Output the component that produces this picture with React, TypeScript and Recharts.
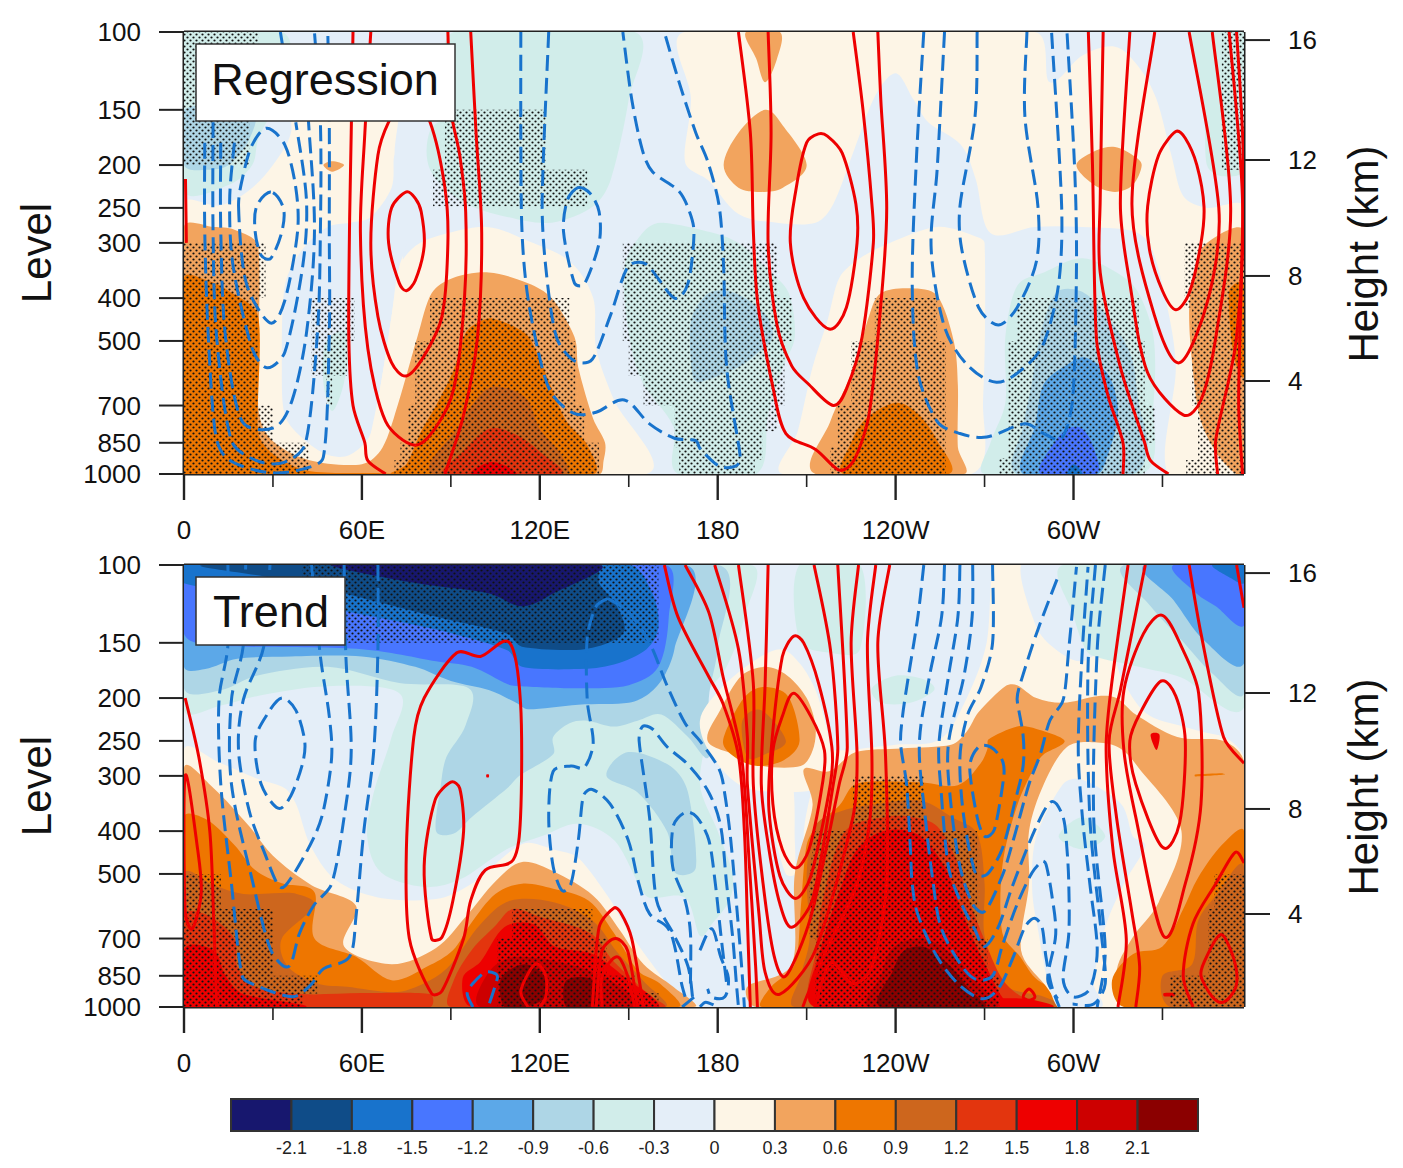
import React from "react"
import { ComposedChart, BarChart, Bar, Scatter, XAxis, YAxis } from "recharts"

type P = [number, number]

const CB = ["#17176e", "#0f4c88", "#1873cc", "#4876ff", "#5ca8e8", "#aed6e6", "#d1edea", "#e4eef8", "#fdf5e6", "#f2a45e", "#ee7600", "#cd661d", "#e3350e", "#ee0000", "#cd0000", "#8b0000"]
const cbLabels = ["-2.1", "-1.8", "-1.5", "-1.2", "-0.9", "-0.6", "-0.3", "0", "0.3", "0.6", "0.9", "1.2", "1.5", "1.8", "2.1"]
const levelTicks = [100, 150, 200, 250, 300, 400, 500, 700, 850, 1000]
const heightLabels = ["16", "12", "8", "4"]
const heightAtLevel = [104.3, 194.8, 356.4, 616]
const lonTicks = [0, 30, 60, 90, 120, 150, 180, 210, 240, 270, 300, 330]
const lonLabels = ["0", "", "60E", "", "120E", "", "180", "", "120W", "", "60W", ""]

const frame: P[] = [[0, 100], [357.5, 100], [357.5, 1000], [0, 1000]]

// ---- Regression shading
const rTealUp: P[] = [[91, 100], [152, 100], [150, 142], [144, 215], [138, 248], [124, 270], [109, 262], [94, 242], [83, 205], [83, 167], [91, 150]]
const rTealLeft: P[] = [[0, 100], [33, 100], [36, 120], [30, 150], [25, 175], [23, 200], [15, 222], [0, 228]]
const rBlueLeft: P[] = [[0, 150], [23, 150], [22, 175], [15, 200], [8, 205], [0, 200]]
const rCreamA: P[] = [[0, 245], [12, 247], [22, 228], [30, 200], [36, 170], [38, 130], [70, 130], [71, 190], [71, 1000], [0, 1000]]
const rPaleB: P[] = [[71, 190], [70, 225], [63, 262], [56, 270], [48.5, 276], [40, 310], [34, 375], [33, 573], [34, 735], [40, 830], [48.5, 905], [56, 905], [63, 810], [66.5, 620], [70, 440], [72.6, 340], [75, 300], [75, 190]]
const rTealSmall: P[] = [[48, 500], [56, 480], [54, 620], [50, 720], [47, 620]]
const rCreamC: P[] = [[169, 100], [171, 142], [169, 197], [177, 217], [187, 258], [200, 270], [213, 270], [219, 245], [226, 185], [233, 140], [240, 124], [246, 142], [251, 160], [262, 180], [267, 215], [272, 285], [287, 276], [303, 276], [320, 282], [326, 305], [331, 400], [334.5, 573], [332, 1000], [357.5, 1000], [357.5, 250], [345, 250], [337, 235], [333, 190], [328, 142], [322, 120], [314, 108], [303, 113], [292, 130], [287, 100]]
const rCreamDome: P[] = [[202, 1000], [207, 800], [212, 573], [217, 450], [221, 360], [228, 325], [238, 300], [254, 276], [267, 290], [270, 300], [269.5, 680], [265.5, 1000]]
const rTealMid: P[] = [[154.6, 285], [160.6, 270], [177, 283], [187, 300], [197, 345], [204, 390], [206, 490], [202, 573], [197, 735], [193, 1000], [166.6, 1000], [165, 780], [154.6, 620], [150, 480], [148.5, 340]]
const rBlueMid: P[] = [[171, 450], [177, 390], [186, 390], [196, 435], [198.5, 490], [193, 535], [187, 573], [174, 620], [171.5, 600]]
const rTealRight: P[] = [[270, 1000], [272, 850], [277, 690], [277, 490], [281, 375], [290, 350], [303, 325], [316, 355], [322, 390], [327, 490], [327, 690], [323, 1000]]
const rLightRight: P[] = [[281, 1000], [283, 780], [286, 620], [288.6, 490], [294, 390], [302, 385], [309, 420], [319, 530], [322, 690], [325, 870], [320, 1000]]
const rSkyRight: P[] = [[283, 1000], [287, 780], [290, 625], [298, 565], [304, 545], [312, 600], [315, 735], [311, 930], [308, 1000]]
const rRoyalRight: P[] = [[289, 1000], [293, 860], [298, 790], [303, 790], [307, 880], [307.5, 1000]]
const rBlueRight: P[] = [[298, 1000], [300, 950], [303, 1000]]
const rTealCorner: P[] = [[340, 100], [357.5, 100], [357.5, 205], [350, 212], [345, 200], [344, 150]]
const rSandRight: P[] = [[357.5, 283], [345, 300], [341, 345], [339, 420], [340, 560], [343, 760], [350, 930], [357.5, 1000]]
const rOrangeRight: P[] = [[352.5, 385], [357.5, 370], [357.5, 600], [354, 540]]
const rRing: P[] = [[63, 810], [66.5, 620], [70, 440], [72.6, 340], [78, 305], [85, 290], [102, 276], [115, 295], [130, 330], [138, 400], [139, 520], [145, 680], [156, 1000], [60, 1000]]
const rSandDome: P[] = [[0, 276], [10, 276], [17, 280], [25, 305], [25, 700], [29, 830], [42, 930], [60, 950], [67, 870], [72.6, 680], [78.7, 490], [83.5, 390], [90.7, 360], [102.8, 350], [116, 370], [124, 400], [131.7, 490], [133, 575], [138, 750], [142, 850], [141.5, 933], [140, 1000], [0, 1000]]
const rOrangeLeft: P[] = [[0, 360], [8, 365], [15, 385], [25, 440], [25, 800], [30, 900], [42, 985], [65, 995], [70, 1000], [0, 1000]]
const rOrangeDome: P[] = [[70, 1000], [75, 950], [80, 800], [85, 700], [91, 580], [95, 480], [99, 455], [104, 445], [115, 480], [120, 550], [124, 640], [129, 760], [136, 860], [138, 1000]]
const rChocDome: P[] = [[84, 1000], [92, 790], [97, 700], [104, 635], [115, 670], [120, 790], [127, 900], [129, 1000]]
const rRedOrDome: P[] = [[88, 1000], [94, 890], [103, 790], [112, 815], [120, 890], [127, 1000]]
const rRedDome: P[] = [[97, 1000], [104, 940], [112, 1000]]
const rSandDome2: P[] = [[213, 1000], [218, 760], [226, 573], [231, 440], [235, 390], [245, 380], [254, 395], [259.6, 500], [261, 630], [261, 870], [263, 1000]]
const rOrangeDome2: P[] = [[222.5, 1000], [225, 850], [230, 750], [240, 690], [247.5, 730], [254, 840], [258, 1000]]
const rBlobTop: P[] = [[189.5, 100], [201, 100], [200, 115], [196, 130], [193, 115]]
const rBlobMid: P[] = [[182, 200], [187, 169], [196, 150], [202, 163], [210, 200], [202, 225], [195, 230], [187, 225]]
const rBlobRight: P[] = [[301, 200], [308, 185], [314, 182], [320, 190], [323, 200], [320, 222], [314, 230], [307, 222]]
const rBlobSmall: P[] = [[47, 200], [50, 196], [54, 200], [50, 207]]

const regFills: [P[], number][] = [
  [frame, 7], [rTealUp, 6], [rTealLeft, 6], [rBlueLeft, 5], [rCreamA, 8], [rPaleB, 7], [rTealSmall, 6], [rCreamC, 8], [rTealMid, 6], [rBlueMid, 5],
  [rCreamDome, 8], [rTealRight, 6], [rLightRight, 5], [rSkyRight, 4], [rRoyalRight, 3], [rBlueRight, 2], [rTealCorner, 6], [rSandRight, 9], [rOrangeRight, 10],
  [rRing, 8], [rSandDome, 9], [rOrangeLeft, 10], [rOrangeDome, 10], [rChocDome, 11], [rRedOrDome, 12], [rRedDome, 13],
  [rSandDome2, 9], [rOrangeDome2, 10], [rBlobTop, 9], [rBlobMid, 9], [rBlobRight, 9], [rBlobSmall, 9],
]

// ---- Regression stippling
const rDotsA: P[] = [[0, 100], [25, 100], [25, 150], [22, 150], [22, 200], [0, 200]]
const rDotsB: P[] = [[0, 300], [27.5, 300], [27.5, 400], [25, 400], [25, 700], [30, 700], [30, 850], [42, 850], [42, 1000], [0, 1000]]
const rDotsC: P[] = [[43, 400], [57.5, 400], [57.5, 500], [55, 500], [55, 600], [50, 600], [50, 700], [48, 700], [48, 600], [43, 600]]
const rDotsD: P[] = [[88, 150], [122, 150], [122, 205], [136, 205], [136, 248], [84, 248], [84, 205], [88, 205]]
const rDotsE: P[] = [[83, 400], [130, 400], [130, 500], [132, 500], [132, 700], [135, 700], [135, 850], [140, 850], [140, 1000], [71, 1000], [71, 930], [73, 930], [73, 850], [75.6, 850], [75.6, 700], [78, 700], [78, 500], [83, 500]]
const rDotsF: P[] = [[148, 300], [200, 300], [200, 400], [205, 400], [205, 500], [202.5, 500], [202.5, 700], [200, 700], [200, 800], [195, 800], [195, 930], [192.5, 930], [192.5, 1000], [167, 1000], [167, 870], [165.5, 870], [165.5, 700], [155, 700], [155, 600], [150, 600], [150, 500], [148, 500]]
const rDotsG: P[] = [[233, 400], [254, 400], [254, 500], [257, 500], [257, 1000], [218, 1000], [218, 870], [220.5, 870], [220.5, 700], [225, 700], [225, 500], [227.5, 500], [233, 500]]
const rDotsH: P[] = [[281, 400], [322, 400], [322, 500], [324, 500], [324, 700], [327.5, 700], [327.5, 850], [324, 850], [324, 1000], [275, 1000], [275, 920], [278, 920], [278, 500], [281, 500]]
const rDotsI: P[] = [[350, 100], [357.5, 100], [357.5, 205], [350, 205]]
const rDotsJ: P[] = [[337.5, 300], [357.5, 300], [357.5, 1000], [338, 1000], [338, 930], [342, 930], [342, 700], [340, 700], [340, 420], [337.5, 420]]
const regDots = [rDotsA, rDotsB, rDotsC, rDotsD, rDotsE, rDotsF, rDotsG, rDotsH, rDotsI, rDotsJ]

// ---- Regression contours
const rr1: P[] = [[57, 100], [56.4, 169], [55.8, 285], [55.6, 500], [57, 700], [61, 850], [62, 933], [68, 1000]]
const rr2: P[] = [[63, 100], [61, 169], [59.5, 285], [62, 520], [68, 760], [77.5, 860], [84.6, 790], [91, 640], [94.6, 400], [95, 255], [93, 190], [90, 150], [89, 100]]
const rr4: P[] = [[96.7, 100], [98.5, 169], [100.4, 285], [99, 490], [94.3, 735], [88, 1000]]
const rr6: P[] = [[0.5, 215], [0.8, 300]]
const rra: P[] = [[187, 100], [191, 169], [192, 280], [193.5, 410], [198.7, 640], [203, 810], [213, 880], [221, 980], [226, 930], [231, 735], [235, 415], [237, 250], [235, 142], [234, 100]]
const rrb: P[] = [[197, 100], [198, 169], [197, 300], [200, 460], [205, 570], [210.5, 625], [219, 700], [223.5, 640], [228.7, 490], [232.5, 300], [232, 245], [229, 150], [225.7, 100]]
const rrd: P[] = [[305, 100], [306.4, 200], [307.7, 490], [311.5, 660], [316.7, 850], [316.7, 1000]]
const rre: P[] = [[310, 100], [309, 240], [309, 350], [315.8, 573], [324, 850], [326, 933], [332, 1000]]
const rrf: P[] = [[319, 100], [315.8, 245], [319, 370], [325, 590], [337, 735], [343, 680], [348, 490], [353, 250], [346.8, 100]]
const rrg: P[] = [[327.4, 100], [319.7, 245], [327.4, 440], [335.8, 560], [345.5, 400], [349, 250], [339, 100]]
const rri: P[] = [[352.5, 100], [357, 240], [355, 490], [348, 835], [348.6, 1000]]
const rrj: P[] = [[355, 100], [357.3, 200], [355.7, 680], [357, 1000]]
const regRedOpen = [rr1, rr2, rr4, rr6, rra, rrb, rrd, rre, rrf, rrg, rri, rrj]

const rr3: P[] = [[69, 160], [65.4, 190], [63, 300], [65.4, 440], [70, 560], [75, 600], [81, 540], [87, 440], [89, 300], [88, 225], [83, 160], [76, 135]]
const rr5: P[] = [[75, 230], [70, 250], [69, 300], [72.6, 370], [75, 385], [78, 365], [81, 305], [80, 255], [78, 238]]
const rrc: P[] = [[214, 170], [210, 178], [206.5, 225], [204.5, 300], [209, 400], [217.6, 470], [223.4, 420], [227, 300], [226.6, 245], [222, 188], [217, 172]]
const rrh: P[] = [[334.5, 168], [328.7, 190], [325, 248], [325.6, 310], [330, 385], [334.5, 425], [339, 390], [343, 300], [344, 248], [341.6, 200], [337.7, 174]]
const regRedClosed = [rr3, rr5, rrc, rrh]

const rbA: P[] = [[7, 178], [7, 283], [8.2, 490], [10.6, 810], [14.8, 925], [28, 992], [40, 975], [47, 915], [49, 480], [49, 283], [49, 160], [48.5, 100]]
const rbB: P[] = [[9.8, 160], [9.8, 283], [11, 490], [16, 840], [24.5, 933], [34, 940], [41, 850], [45, 480], [46, 283], [46, 160], [44, 100]]
const rbC: P[] = [[12.4, 178], [12.4, 283], [14, 490], [19.6, 760], [30.5, 785], [36.5, 680], [41.3, 480], [44, 283], [42, 160], [40, 104]]
const rbD: P[] = [[17, 178], [15.4, 240], [16.6, 340], [23, 520], [28, 575], [34, 530], [40, 340], [41.3, 240], [37.7, 160]]
const rbG: P[] = [[32.5, 100], [34, 115]]
const rbH: P[] = [[113.6, 100], [113.6, 169], [114, 283], [116, 400], [120.8, 575], [124.5, 665], [131.7, 730], [139, 725], [148.5, 680], [157, 770], [165.4, 830], [172.6, 840], [174, 875], [180.5, 960], [186, 960], [187.6, 915], [183, 573], [182, 340], [180.5, 248], [176.6, 196], [172.6, 169], [167, 130], [162, 100]]
const rbJ: P[] = [[123, 100], [120.8, 240], [122, 340], [125.6, 490], [131.7, 555], [137.7, 550], [143.7, 440], [149.7, 340], [155.8, 335], [165.4, 400], [170, 370], [172, 283], [170, 250], [166.6, 228], [158, 207], [154.6, 185], [151, 142], [148, 100]]
const rbL: P[] = [[249.5, 100], [247, 195], [245.6, 371], [247.5, 590], [254, 760], [261.7, 810], [270.7, 825], [283.6, 770], [290, 810], [296, 830], [299.7, 680], [301, 340], [300.4, 205], [297.8, 100]]
const rbM: P[] = [[256.5, 100], [254, 205], [252, 310], [256.5, 465], [264, 565], [274, 620], [283.6, 573], [290, 505], [295, 371], [296, 248], [292.6, 100]]
const rbN: P[] = [[267.5, 100], [266.8, 155], [261.7, 248], [262.3, 310], [268, 420], [274.6, 460], [281, 420], [287.5, 330], [288, 248], [283.6, 155], [284.3, 100]]
const regBlueOpen = [rbA, rbB, rbC, rbD, rbG, rbH, rbJ, rbL, rbM, rbN]

const rbE: P[] = [[18.4, 248], [21, 370], [29, 455], [34, 405], [38.3, 283], [37.7, 225], [34, 180], [28, 165], [23, 180], [20, 210]]
const rbF: P[] = [[29.3, 230], [24.5, 248], [24, 283], [26, 320], [29.3, 325], [33, 283], [33.5, 250]]
const rbK: P[] = [[132.9, 225], [129.3, 240], [128, 283], [131.7, 370], [135, 372], [140, 300], [140, 255], [137, 232]]
const regBlueClosed = [rbE, rbF, rbK]

// ---- Trend shading
const tTeal: P[] = [[0, 100], [191, 100], [189, 131], [183, 170], [174, 205], [177, 228], [174, 313], [180, 400], [185, 500], [184, 573], [178, 650], [174, 690], [169, 566], [157, 566], [153.3, 526], [145, 419], [133, 385], [121, 410], [108.7, 440], [93, 515], [81, 535], [66.6, 497], [61.8, 412], [64, 327], [70, 245], [72.6, 195], [48.5, 188], [24.5, 198], [12.4, 208], [0, 213]]
const tTealB: P[] = [[207.6, 100], [228, 100], [228, 155], [218, 158], [207.6, 148]]
const tTealC: P[] = [[232, 190], [240, 178], [250, 182], [253, 192], [245, 205], [235, 205]]
const tLight: P[] = [[0, 190], [12.4, 192], [24.5, 178], [48.5, 170], [72.6, 185], [96, 190], [95, 230], [88.5, 272], [86.6, 315], [85, 400], [91, 405], [97, 372], [109, 320], [113, 300], [124.5, 268], [124.5, 245], [130, 228], [136, 225], [145, 232], [153, 225], [161, 218], [170, 245], [177, 272], [177, 200], [180, 154], [180, 100], [0, 100]]
const tLightLobe: P[] = [[149.8, 265], [164, 285], [170, 327], [172.6, 485], [165.4, 495], [163, 402], [153, 327], [142.5, 300]]
const tSky: P[] = [[0, 170], [7.2, 172], [18, 163], [36, 161], [60, 161], [78, 170], [90, 183], [103, 192], [112, 205], [116, 212], [133, 207], [150, 205], [157, 195], [162, 178], [165.4, 155], [169, 100], [0, 100]]
const tRoyal: P[] = [[0, 143], [10, 152], [60, 155], [85, 165], [97, 170], [109, 186], [113, 188], [133, 190], [150, 187], [160, 170], [163.5, 131], [162, 100], [0, 100]]
const tBlue: P[] = [[0, 100], [0, 110], [30, 118], [54, 127], [85, 140], [109, 156], [114, 170], [133, 172], [145, 168], [156, 155], [160, 138], [158, 116], [150, 100]]
const tDark: P[] = [[7, 100], [30, 107], [54, 116], [85, 131], [109, 143], [114, 153], [135, 155], [148, 143], [146, 124], [140, 110], [139, 100]]
const tNavy: P[] = [[50, 100], [55, 102.6], [78.7, 110], [103, 116], [114, 124], [124.5, 116], [140, 100]]
const tCream: P[] = [[0, 262], [12, 280], [25, 305], [34, 320], [38, 350], [42.6, 430], [51, 515], [65.4, 565], [85, 570], [97, 526], [110, 445], [116, 425], [124.5, 440], [133, 460], [144, 575], [149, 660], [163, 885], [169, 948], [173, 1000], [0, 1000]]
const tSand: P[] = [[0, 288], [10, 320], [22, 390], [30, 455], [43, 530], [58, 590], [54, 730], [70, 800], [85, 735], [95, 625], [105, 520], [114, 470], [125, 495], [138, 560], [147, 670], [155, 800], [165, 900], [172, 1000], [0, 1000]]
const tOrange: P[] = [[0, 372], [8, 378], [17, 430], [24, 490], [33, 525], [44, 550], [44, 700], [58, 770], [70, 870], [82, 810], [90.7, 744], [96.7, 648], [105, 555], [114, 526], [124.5, 540], [136.5, 575], [145, 680], [153.3, 830], [160.5, 885], [166.6, 1000], [0, 1000]]
const tChoc: P[] = [[0, 500], [10, 530], [20, 555], [30, 553], [38, 555], [44, 590], [33, 700], [35, 810], [45, 885], [55, 900], [72, 925], [83, 870], [90, 800], [100, 650], [110, 575], [125, 580], [138, 640], [146, 750], [155, 875], [162, 1000], [0, 1000]]
const tRedOrA: P[] = [[0, 620], [8, 620], [17, 700], [18, 810], [24, 900], [40, 935], [60, 930], [83, 935], [83, 1000], [0, 1000]]
const tRedOrB: P[] = [[90, 1000], [91, 870], [97, 744], [105, 655], [111, 600], [120, 625], [137, 680], [145, 790], [157, 940], [162, 1000]]
const tRedA: P[] = [[0, 740], [10, 745], [14, 850], [20, 935], [41, 1000], [0, 1000]]
const tRedB: P[] = [[94, 860], [100, 790], [108, 660], [118, 650], [125, 730], [138, 760], [150, 870], [158, 950], [160, 1000], [97, 1000]]
const tDarkRed: P[] = [[100, 1000], [103, 830], [112, 770], [130, 800], [145, 880], [152, 1000]]
const tMaroonA: P[] = [[108, 1000], [107, 860], [115, 800], [122, 860], [122, 950], [115, 1000]]
const tMaroonB: P[] = [[129, 1000], [129, 870], [138, 870], [138, 1000]]
const tCreamTop: P[] = [[273.3, 100], [282.4, 100], [287.5, 138], [294, 155], [303, 165], [312, 155], [317, 185], [326, 220], [350.6, 245], [357.5, 275], [357.5, 500], [215, 500], [215, 272], [225.6, 262], [240, 255], [255, 248], [264, 200], [270.7, 150]]
const tCreamRing: P[] = [[174, 225], [180.5, 192], [191, 167], [201, 155], [207.7, 167], [213, 192], [216.6, 232], [218, 272], [215, 320], [190, 320], [178, 270]]
const tSandBlob: P[] = [[176.6, 250], [181, 212], [188, 178], [196, 170], [203.5, 178], [210, 200], [213, 232], [212, 263], [208, 285], [195, 285], [187, 270]]
const tOrangeBlob: P[] = [[181.8, 250], [188.3, 202], [194.7, 189], [203.7, 198], [207.6, 250], [202.4, 276], [193.4, 285], [185.7, 272]]
const tChocBlob: P[] = [[188.3, 225], [194.7, 213], [203, 250], [196, 268], [190, 272]]
const tCreamCol: P[] = [[198, 310], [205, 310], [206, 420], [206, 500], [203, 500], [199, 400]]
const tSandMain: P[] = [[209, 290], [217.6, 293], [226.6, 265], [242, 260], [258.7, 255], [264, 238], [268, 215], [277, 188], [281, 187], [287.5, 200], [296.5, 205], [308, 198], [314.5, 200], [321, 218], [335, 245], [350.6, 250], [357.5, 280], [357.5, 1000], [193, 1000], [190, 900], [205, 800], [206, 500], [212, 350]]
const tOrangeMain: P[] = [[271.4, 248], [281, 232], [287.5, 235], [297, 250], [290, 268], [287.5, 281], [281, 350], [276, 480], [276, 680], [282, 770], [288, 870], [300, 950], [303, 1000], [195, 1000], [198, 900], [206, 800], [208, 600], [210, 430], [214, 385], [221, 350], [227, 312], [248, 310], [261, 315], [268.7, 281], [271, 260]]
const tChocMain: P[] = [[213, 388], [221.8, 360], [236, 345], [249, 342], [259, 372], [267.5, 405], [270, 526], [270, 690], [276, 885], [290, 948], [296.5, 1000], [206, 1000], [208, 850], [211, 700], [210, 500]]
const tRedOrMain: P[] = [[223, 400], [236, 372], [246, 372], [254, 390], [260.4, 462], [264, 553], [269.4, 690], [276, 865], [283.6, 958], [292.6, 1000], [213, 1000], [213, 750], [216, 550]]
const tRedMain: P[] = [[227, 440], [236, 400], [247.5, 407], [256.5, 481], [261.7, 590], [267, 722], [274.6, 920], [277, 1000], [213, 1000], [214.6, 744], [222, 526]]
const tRedFoot: P[] = [[272, 960], [285, 960], [293, 1000], [272, 1000]]
const tDarkRedMain: P[] = [[231, 1000], [235, 850], [239, 735], [249.5, 700], [260, 770], [267.5, 885], [274, 1000]]
const tMaroonMain: P[] = [[235, 1000], [239, 830], [243, 744], [250.6, 735], [258.6, 810], [265, 915], [270, 1000]]
const tCreamInner: P[] = [[297.8, 258], [308, 252], [315.8, 260], [322, 288], [336.4, 400], [328.7, 580], [319.7, 700], [314.5, 840], [319.7, 1000], [297.8, 1000], [290, 885], [282.3, 744], [285, 526], [285, 400], [290, 313]]
const tPaleInner: P[] = [[294.6, 1000], [287.5, 640], [286, 526], [287.5, 411], [296.5, 313], [303, 306], [316, 347], [320, 411], [324.2, 432], [317, 526], [310.7, 660], [306.8, 885], [309.4, 1000]]
const tTealInner: P[] = [[295, 411], [303, 372], [310.7, 411], [303, 440]]
const tOrangeLow: P[] = [[357.5, 400], [350, 430], [342, 510], [337, 600], [330, 730], [320, 760], [313, 870], [317, 1000], [357.5, 1000]]
const tChocLow: P[] = [[357.5, 481], [348, 560], [342, 640], [340, 800], [330, 850], [332.6, 1000], [357.5, 1000]]
const tMarkA: P[] = [[330.5, 930], [334, 930], [334, 945], [330.5, 945]]
const tMarkB: P[] = [[341, 298], [350, 296], [351, 298], [341, 301]]
const tMarkC: P[] = [[326, 242], [329, 242], [328, 262]]
const tMarkD: P[] = [[102, 298], [102.8, 298], [102.8, 302], [102, 302]]
const tPaleCorner: P[] = [[282.4, 100], [296.5, 100], [357.5, 190], [357.5, 240], [340, 235], [322, 205], [312, 150], [303, 165], [294, 155], [287.5, 138]]
const tTealCorner: P[] = [[296.5, 100], [300, 130], [303, 150], [306, 160], [322, 170], [336.5, 180], [357.5, 210], [357.5, 100]]
const tLightCorner: P[] = [[317, 100], [326, 124], [336.5, 148], [346.8, 176], [357.5, 195], [357.5, 100]]
const tSkyCorner: P[] = [[324, 100], [333.7, 120], [344, 148], [357.5, 167], [357.5, 100]]
const tRoyalCorner: P[] = [[333.7, 100], [341.5, 116], [348, 124], [357.5, 137], [357.5, 100]]
const tBlueCorner: P[] = [[346.8, 100], [353, 107], [357.5, 110], [357.5, 100]]

const trendFills: [P[], number][] = [
  [frame, 7], [tTeal, 6], [tTealB, 6], [tTealC, 6], [tLight, 5], [tLightLobe, 5], [tSky, 4], [tRoyal, 3], [tBlue, 2], [tDark, 1], [tNavy, 0],
  [tCream, 8], [tSand, 9], [tOrange, 10], [tChoc, 11], [tRedOrA, 12], [tRedOrB, 12], [tRedA, 13], [tRedB, 13], [tDarkRed, 14], [tMaroonA, 15], [tMaroonB, 15],
  [tCreamTop, 8], [tPaleCorner, 7], [tTealCorner, 6], [tLightCorner, 5], [tSkyCorner, 4], [tRoyalCorner, 3], [tBlueCorner, 2],
  [tCreamRing, 8], [tCreamCol, 8], [tSandMain, 9], [tSandBlob, 9], [tOrangeBlob, 10], [tChocBlob, 11], [tOrangeMain, 10], [tChocMain, 11], [tRedOrMain, 12], [tRedMain, 13], [tRedFoot, 13], [tDarkRedMain, 14], [tMaroonMain, 15],
  [tCreamInner, 8], [tPaleInner, 7], [tTealInner, 6], [tOrangeLow, 10], [tChocLow, 11], [tMarkA, 13], [tMarkB, 10], [tMarkC, 13], [tMarkD, 13],
]

// ---- Trend stippling
const tDotsA: P[] = [[40, 100], [160, 100], [160, 150], [54, 150], [54, 107], [40, 107]]
const tDotsB: P[] = [[0, 500], [12.4, 500], [12.4, 600], [30, 600], [30, 850], [45, 850], [45, 932], [40, 932], [40, 1000], [0, 1000]]
const tDotsC: P[] = [[110.6, 600], [137.7, 600], [137.7, 700], [142.5, 700], [142.5, 850], [152, 850], [152, 930], [160, 930], [160, 1000], [105.8, 1000], [105.8, 700], [110.6, 700]]
const tDotsD: P[] = [[225.6, 300], [249.5, 300], [249.5, 400], [267.5, 400], [267.5, 700], [271, 700], [271, 850], [275, 850], [275, 1000], [213, 1000], [213, 700], [211, 700], [211, 500], [212.7, 400], [225.6, 400]]
const tDotsE: P[] = [[347.5, 500], [357.5, 500], [357.5, 1000], [332.6, 1000], [332.6, 850], [345.5, 850], [345.5, 600], [347.5, 600]]
const trendDots = [tDotsA, tDotsB, tDotsC, tDotsD, tDotsE]

// ---- Trend contours
const tr1: P[] = [[0.4, 200], [5, 272], [8.7, 400], [10, 630], [11, 1000]]
const tr5a: P[] = [[137.7, 1000], [140, 660], [145, 597], [147.3, 612], [151, 700], [155, 1000]]
const tr5b: P[] = [[139, 1000], [141, 745], [145.6, 700], [149.6, 745], [153, 1000]]
const tr5c: P[] = [[141, 1000], [141, 850], [146, 770], [149.6, 850], [152, 1000]]
const tr6: P[] = [[116, 1000], [113.6, 920], [118.4, 800], [122, 850], [122, 950], [120, 1000]]
const trL3: P[] = [[197, 100], [196, 185], [194.7, 313], [197.3, 440], [201, 585], [205, 660], [212, 570], [219, 313], [220.5, 258], [218, 155], [212.5, 100]]
const trL4: P[] = [[187, 100], [192, 185], [192, 313], [195.3, 526], [199, 765], [203, 850], [211.4, 625], [221, 313], [223.7, 258], [220.5, 100]]
const trL5: P[] = [[179, 100], [187, 155], [190, 245], [190, 313], [194, 625], [196, 835], [201, 935], [212.7, 750], [225.6, 372], [227, 270], [225, 150], [227.5, 100]]
const trL6: P[] = [[169, 100], [177, 128], [181.8, 179], [188, 270], [190.7, 480], [192.8, 810], [193.4, 1000]]
const trL7: P[] = [[162, 100], [166.6, 131], [177, 179], [181.8, 206], [187, 270], [189, 400], [190, 630], [191, 1000]]
const trR8: P[] = [[233.3, 100], [230.5, 150], [232, 270], [231.4, 372], [227, 526], [216.6, 744], [210, 948], [208.7, 1000]]
const trR9: P[] = [[238, 100], [234, 150], [236.6, 270], [237, 526], [232, 810], [225.6, 885], [218, 795], [212.7, 1000]]
const trOut1: P[] = [[324.2, 100], [315.8, 192], [312, 250], [314.5, 372], [319.7, 612], [322.3, 810], [321, 1000]]
const trOut2: P[] = [[318.4, 100], [312.6, 192], [311, 263], [313.3, 440], [317.8, 702], [315, 1000]]
const trFar: P[] = [[339, 100], [343, 143], [350.6, 245], [357.5, 281]]
const trCorner: P[] = [[355, 100], [357.5, 125]]
const trBR: P[] = [[357.5, 472], [354.5, 447], [348, 526], [340.3, 648], [337, 850], [340.3, 1000]]
const trendRedOpen = [tr1, tr5a, tr5b, tr5c, tr6, trL3, trL4, trL5, trL6, trL7, trR8, trR9, trOut1, trOut2, trFar, trCorner, trBR]

const tr2: P[] = [[0.4, 300], [4.6, 440], [5.8, 553], [2.8, 665], [0.4, 610]]
const tr3: P[] = [[109.8, 150], [113.5, 205], [113.5, 372], [111, 465], [101.6, 490], [96.7, 574], [94.3, 700], [87, 920], [83.5, 932], [76, 700], [75, 440], [77.5, 245], [81, 200], [92, 158], [100, 161]]
const tr4: P[] = [[90, 310], [84.7, 340], [81, 480], [83.5, 700], [87, 695], [90.7, 574], [94.3, 400], [93, 320]]
const trL1: P[] = [[205.6, 195], [201.8, 220], [198.6, 263], [198.6, 347], [201.8, 440], [206.3, 485], [210.8, 440], [215.3, 313], [216, 263], [211.4, 220]]
const trL2: P[] = [[205.6, 145], [201.8, 161], [198, 263], [197.3, 360], [201, 506], [206.3, 568], [211.4, 506], [218, 313], [218.5, 258], [214, 185], [209, 150]]
const trIn: P[] = [[329.6, 183], [323, 213], [319, 250], [321, 313], [330, 435], [335.8, 383], [337.7, 250], [334.5, 198]]
const trMid: P[] = [[330, 130], [323.6, 143], [317, 192], [317, 263], [321, 372], [330.3, 690], [337.7, 526], [343, 347], [342.2, 195], [336.4, 153]]
const trBRin: P[] = [[349.3, 687], [344.2, 787], [343, 850], [346.8, 948], [350.6, 975], [354.5, 910], [355, 830], [352.5, 730]]
const trSmall: P[] = [[283, 948], [285, 910], [287, 948], [285, 965]]
const trendRedClosed = [tr2, tr3, tr4, trL1, trL2, trIn, trMid, trBRin, trSmall]

const tb1: P[] = [[65.4, 100], [65.4, 155], [64, 263], [60.6, 403], [58, 625], [55.8, 770], [47, 820], [42.5, 895], [36.5, 948], [24.5, 895], [19.6, 850], [16, 526], [12.4, 313], [11.8, 202], [14.8, 152], [14.8, 100]]
const tb2: P[] = [[54, 100], [54.6, 161], [56.4, 263], [54, 372], [49.8, 526], [43.7, 590], [39, 680], [35.3, 810], [29.3, 744], [23.3, 526], [16, 313], [16, 202], [20, 152], [20.8, 100]]
const tb3: P[] = [[43, 100], [46, 161], [49, 220], [49.8, 272], [47, 360], [43.7, 415], [36.5, 506], [32.3, 535], [27, 445], [22, 360], [18.4, 263], [20, 202], [27, 152], [29, 100]]
const tbA: P[] = [[143, 119], [139, 124], [136, 146], [136, 202], [138, 253], [135, 287], [130.5, 285], [124.5, 293], [123, 372], [124.5, 481], [127.5, 545], [130.5, 526], [133, 419], [134.7, 333], [137.7, 322], [143.7, 347], [149.8, 419], [153.4, 526], [157, 615], [163, 660], [165.4, 725], [167.8, 885], [169, 948]]
const tbB: P[] = [[143, 119], [150, 128], [157, 150], [163, 188], [169, 228], [174, 250], [180.5, 290], [182.4, 330], [184.4, 419], [187, 660], [188.3, 850], [189, 1000]]
const tbC: P[] = [[171.5, 948], [170, 810], [165.4, 690], [159.4, 574], [157, 372], [153.5, 250], [154.6, 232], [158, 235], [163, 258], [170, 283], [177, 327], [181, 390], [183, 526], [185, 690], [186.3, 885], [187, 1000]]
const tbD: P[] = [[170.8, 885], [170.8, 680], [169, 574], [164.8, 481], [165, 390], [169, 363], [173, 372], [177, 419], [179.2, 526], [181, 680], [183, 885]]
const tbE: P[] = [[174, 744], [178, 665], [181, 770], [183.6, 860], [182.4, 948], [178, 950], [176.6, 910]]
const tbF: P[] = [[97.4, 1000], [95.5, 932], [97.4, 885], [101.6, 835], [105, 840], [105.7, 860], [102.6, 1000]]
const tbH: P[] = [[168, 1000], [172, 950]]
const tbI: P[] = [[174, 1000], [176, 975], [180, 1000]]
const tba: P[] = [[249.5, 100], [247.5, 131], [244.3, 179], [242.4, 218], [241.7, 254], [243.7, 313], [245, 440], [245.6, 526], [247.5, 618], [254, 770], [261.7, 895], [269.4, 958], [275, 902], [279.7, 770], [283.6, 660], [286.8, 630], [289.4, 660], [290.7, 770], [292.6, 895], [295.2, 1000]]
const tbb: P[] = [[256.5, 100], [255.5, 131], [251.4, 179], [248, 254], [250, 372], [252.7, 526], [255.3, 660], [261.7, 797], [266.9, 865], [272.7, 850], [275.9, 730], [281, 585], [286, 497], [289.4, 468], [290.7, 475], [292.6, 553], [294, 684], [291.3, 865], [294.6, 958]]
const tbc: P[] = [[261.7, 100], [261, 131], [257.8, 179], [254.6, 254], [255.3, 322], [257.8, 481], [261.7, 574], [266.9, 672], [270, 730], [274.6, 660], [279.7, 526], [287.5, 390], [292.6, 343], [296.5, 372], [297.8, 440], [298.4, 526], [298.4, 684], [296.5, 865], [299.7, 948], [305.5, 910], [308, 744], [305.5, 526], [303, 372], [301.6, 258], [303, 155], [304.9, 101]]
const tbd: P[] = [[266, 100], [265.8, 131], [263, 179], [257.8, 254], [258.5, 340], [261.7, 481], [266, 585], [270, 608], [275.9, 506], [279.7, 419], [285, 313], [288.8, 268], [292, 225], [296.5, 202], [298.4, 155], [301, 101]]
const tbe: P[] = [[272.7, 100], [272.7, 150], [268.8, 189], [264.3, 218], [261.7, 272], [263, 372], [266.9, 497], [270.7, 502], [275.9, 440], [280.4, 340], [283, 285], [283, 243], [281, 202], [281.7, 189], [287.5, 143], [295.2, 104.5]]
const tbg: P[] = [[307.4, 100], [304.9, 170], [305.5, 372], [309.4, 684], [310.7, 885], [306.8, 985], [299.7, 985]]
const tbh: P[] = [[310.7, 100], [308, 155], [306.8, 372], [310.7, 744], [308, 1000]]
const trendBlueOpen = [tb1, tb2, tb3, tbA, tbB, tbC, tbD, tbE, tbF, tbH, tbI, tba, tbb, tbc, tbd, tbe, tbg, tbh]

const tb4: P[] = [[33, 200], [28, 218], [24, 250], [26, 313], [31.7, 355], [36, 333], [40, 281], [40.7, 250], [37.7, 213]]
const tbHook: P[] = [[270, 411], [273.3, 397], [276.5, 300], [275.9, 276], [272, 258], [268, 258], [265, 285], [267.5, 372]]
const trendBlueClosed = [tb4, tbHook]

// ---- drawing helpers
const toPts = (a: P[]) => a.map(([lon, lev]) => ({ lon, lev }))

function smoothPath(p: { x: number; y: number }[], closed: boolean) {
  const n = p.length
  const at = (i: number) => (closed ? p[(i + n) % n] : p[Math.max(0, Math.min(n - 1, i))])
  // keep a long neighbouring segment from pushing the curve past its corner
  const limit = (dx: number, dy: number, max: number) => {
    const len = Math.hypot(dx, dy)
    return len > max && len > 0 ? [(dx * max) / len, (dy * max) / len] : [dx, dy]
  }
  let d = `M${p[0].x},${p[0].y}`
  const segs = closed ? n : n - 1
  for (let i = 0; i < segs; i++) {
    const a = at(i - 1), b = at(i), c = at(i + 1), e = at(i + 2)
    const L = Math.hypot(c.x - b.x, c.y - b.y) / 3
    const [t1x, t1y] = limit((c.x - a.x) / 6, (c.y - a.y) / 6, L)
    const [t2x, t2y] = limit((e.x - b.x) / 6, (e.y - b.y) / 6, L)
    d += `C${b.x + t1x},${b.y + t1y} ${c.x - t2x},${c.y - t2y} ${c.x},${c.y}`
  }
  return d + (closed ? "Z" : "")
}

const noDot = () => <g />
const axisIds = { xAxisId: "lon", yAxisId: "lev" }

function fillLayer(a: P[], fill: string, key: string) {
  return (
    <Scatter key={key} {...axisIds} data={toPts(a)} shape={noDot} isAnimationActive={false}
      line={(l: any) => <path d={smoothPath(l.points, true)} fill={fill} stroke="none" />} />
  )
}
function dotsLayer(a: P[], key: string) {
  return (
    <Scatter key={key} {...axisIds} data={toPts(a)} shape={noDot} isAnimationActive={false}
      line={(l: any) => <path d={"M" + l.points.map((q: any) => `${q.x},${q.y}`).join("L") + "Z"} fill="url(#stipple)" stroke="none" />} />
  )
}
function contour(a: P[], color: string, closed: boolean, dashed: boolean, key: string) {
  return (
    <Scatter key={key} {...axisIds} data={toPts(a)} shape={noDot} isAnimationActive={false}
      line={(l: any) => <path d={smoothPath(l.points, closed)} fill="none" stroke={color} strokeWidth={dashed ? 3 : 3} strokeDasharray={dashed ? "16 7" : undefined} strokeLinejoin="round" />} />
  )
}

const FONT = "'Liberation Sans', Arial, sans-serif"

const BottomTick = (p: any) => {
  const i = lonTicks.indexOf(p.payload.value)
  const major = i % 2 === 0
  return (
    <g>
      <line x1={p.x} x2={p.x} y1={p.y} y2={p.y + (major ? 26 : 13)} stroke="#222" strokeWidth={major ? 2.4 : 1.6} />
      <text x={p.x} y={p.y + 65} textAnchor="middle" fontSize={26} fontFamily={FONT} fill="#111">{lonLabels[i]}</text>
    </g>
  )
}
const TopTick = (p: any) => {
  const major = lonTicks.indexOf(p.payload.value) % 2 === 0
  return <line x1={p.x} x2={p.x} y1={p.y} y2={p.y - (major ? 26 : 13)} stroke="#222" strokeWidth={major ? 2.4 : 1.6} />
}
const LeftTick = (p: any) => (
  <g>
    <line x1={p.x} x2={p.x - 25} y1={p.y} y2={p.y} stroke="#222" strokeWidth={2} />
    <text x={p.x - 43} y={p.y + 9} textAnchor="end" fontSize={26} fontFamily={FONT} fill="#111">{p.payload.value}</text>
  </g>
)
const RightTick = (p: any) => (
  <g>
    <line x1={p.x} x2={p.x + 26} y1={p.y} y2={p.y} stroke="#222" strokeWidth={2} />
    <text x={p.x + 44} y={p.y + 9} fontSize={26} fontFamily={FONT} fill="#111">{heightLabels[heightAtLevel.indexOf(p.payload.value)]}</text>
  </g>
)

function Panel({ top, fills, dots, redOpen, redClosed, blueOpen, blueClosed }: any) {
  return (
    <div style={{ position: "absolute", left: 0, top }}>
      <ComposedChart width={1403} height={554} margin={{ top: 0, right: 0, bottom: 0, left: 0 }}>
        <XAxis xAxisId="lon" dataKey="lon" type="number" domain={[0, 357.5]} ticks={lonTicks} interval={0} height={80} tickSize={0} tickMargin={0} tickLine={false} allowDataOverflow tick={BottomTick} axisLine={{ stroke: "#222", strokeWidth: 3 }} />
        <XAxis xAxisId="top" orientation="top" type="number" domain={[0, 357.5]} ticks={lonTicks} interval={0} height={32} tickSize={0} tickMargin={0} tickLine={false} allowDataOverflow tick={TopTick} axisLine={{ stroke: "#222", strokeWidth: 3 }} />
        <YAxis yAxisId="lev" dataKey="lev" type="number" scale="log" domain={[100, 1000]} reversed ticks={levelTicks} interval={0} width={184} tickSize={0} tickMargin={0} tickLine={false} allowDataOverflow tick={LeftTick} axisLine={{ stroke: "#222", strokeWidth: 3 }} />
        <YAxis yAxisId="km" orientation="right" type="number" scale="log" domain={[100, 1000]} reversed ticks={heightAtLevel} interval={0} width={159} tickSize={0} tickMargin={0} tickLine={false} allowDataOverflow tick={RightTick} axisLine={{ stroke: "#222", strokeWidth: 3 }} />
        {fills.map(([a, c]: [P[], number], i: number) => fillLayer(a, CB[c], "f" + i))}
        {dots.map((a: P[], i: number) => dotsLayer(a, "d" + i))}
        {blueOpen.map((a: P[], i: number) => contour(a, CB[2], false, true, "bo" + i))}
        {blueClosed.map((a: P[], i: number) => contour(a, CB[2], true, true, "bc" + i))}
        {redOpen.map((a: P[], i: number) => contour(a, CB[13], false, false, "ro" + i))}
        {redClosed.map((a: P[], i: number) => contour(a, CB[13], true, false, "rc" + i))}
      </ComposedChart>
    </div>
  )
}

const cbRow = [Object.fromEntries(CB.map((_, i) => ["c" + i, 1]))]
const CbTick = (p: any) => (
  <text x={p.x} y={p.y + 23} textAnchor="middle" fontSize={18} fontFamily={FONT} fill="#222">{cbLabels[p.payload.value - 1]}</text>
)

export default function App() {
  return (
    <div style={{ position: "absolute", left: 0, top: 0, width: 1403, height: 1168, background: "#fff", overflow: "hidden" }}>
      <svg width={0} height={0} style={{ position: "absolute" }}>
        <defs>
          <pattern id="stipple" patternUnits="userSpaceOnUse" width={6} height={6}>
            <circle cx={1.5} cy={1.5} r={1.1} fill="#111" />
            <circle cx={4.5} cy={4.5} r={1.1} fill="#111" />
          </pattern>
        </defs>
      </svg>
      <Panel top={0} fills={regFills} dots={regDots} redOpen={regRedOpen} redClosed={regRedClosed} blueOpen={regBlueOpen} blueClosed={regBlueClosed} />
      <Panel top={533} fills={trendFills} dots={trendDots} redOpen={trendRedOpen} redClosed={trendRedClosed} blueOpen={trendBlueOpen} blueClosed={trendBlueClosed} />
      <div style={{ position: "absolute", left: 229, top: 1097 }}>
        <BarChart width={971} height={70} layout="vertical" data={cbRow} barCategoryGap={0} margin={{ top: 2, right: 2, bottom: 0, left: 2 }}>
          <XAxis type="number" domain={[0, 16]} ticks={cbLabels.map((_, i) => i + 1)} interval={0} height={36} tickSize={0} tickMargin={0} tickLine={false} axisLine={false} tick={CbTick} />
          <YAxis type="category" hide />
          {CB.map((c, i) => (
            <Bar key={c} dataKey={"c" + i} stackId="a" fill={c} stroke="#333" strokeWidth={2} isAnimationActive={false} />
          ))}
        </BarChart>
      </div>
      <svg width={1403} height={1168} style={{ position: "absolute", left: 0, top: 0, pointerEvents: "none" }} fontFamily={FONT}>
        <text transform="rotate(-90 51 253)" x={51} y={253} textAnchor="middle" fontSize={42} fill="#111">Level</text>
        <text transform="rotate(-90 51 786)" x={51} y={786} textAnchor="middle" fontSize={42} fill="#111">Level</text>
        <text transform="rotate(-90 1378 254)" x={1378} y={254} textAnchor="middle" fontSize={42} fill="#111">Height (km)</text>
        <text transform="rotate(-90 1378 787)" x={1378} y={787} textAnchor="middle" fontSize={42} fill="#111">Height (km)</text>
        <rect x={196} y={44} width={259} height={77} fill="#fff" stroke="#333" strokeWidth={1.5} />
        <text x={325} y={95} textAnchor="middle" fontSize={45} fill="#111">Regression</text>
        <rect x={196} y={577} width={149} height={68} fill="#fff" stroke="#333" strokeWidth={1.5} />
        <text x={271} y={627} textAnchor="middle" fontSize={45} fill="#111">Trend</text>
      </svg>
    </div>
  )
}
